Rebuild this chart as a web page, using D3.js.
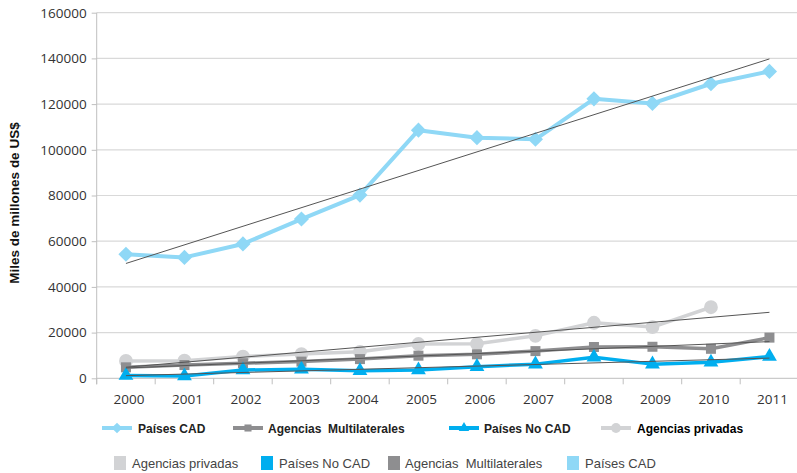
<!DOCTYPE html>
<html><head><meta charset="utf-8">
<script src="https://cdn.jsdelivr.net/npm/d3@7"></script>
<style>
body{margin:0;background:#fff;}
svg text{white-space:pre;}
</style></head>
<body><svg id="c" width="797" height="473"></svg>
<script>
const years = ["2000","2001","2002","2003","2004","2005","2006","2007","2008","2009","2010","2011"];
const paisesCAD = [54300, 52900, 58800, 69700, 80200, 108600, 105300, 104600, 122300, 120300, 128900, 134300];
const agenciasMultilaterales = [4800, 5800, 6600, 7300, 8400, 9900, 10500, 11900, 13700, 13800, 12900, 17800];
const paisesNoCAD = [1200, 1000, 3600, 4000, 3300, 3600, 5100, 6200, 9200, 6200, 7000, 9500];
const agenciasPrivadas = [7600, 7700, 9500, 10600, 11600, 15000, 15100, 18600, 24300, 22400, 31100, null];
const yTicks = [0, 20000, 40000, 60000, 80000, 100000, 120000, 140000, 160000];
const yTitle = "Miles de millones de US$";

const series = [
  {name:"Agencias privadas", values:agenciasPrivadas, color:"#d2d3d5", marker:"circle"},
  {name:"Agencias  Multilaterales", values:agenciasMultilaterales, color:"#8e8e90", marker:"square"},
  {name:"Países No CAD", values:paisesNoCAD, color:"#00aeef", marker:"triangle"},
  {name:"Países CAD", values:paisesCAD, color:"#8fd8f6", marker:"diamond"}
];

const svg = d3.select("#c");
const pLeft = 96.7, pRight = 798.7, pTop = 12.7, pBottom = 378.3;
const x = d3.scaleBand().domain(years).range([pLeft, pRight]).padding(0);
const cx = d => x(d) + x.bandwidth()/2;
const y = d3.scaleLinear().domain([0,160000]).range([pBottom, pTop]);

// gridlines
svg.append("g").selectAll("line").data(yTicks.filter(t=>t>0)).join("line")
  .attr("x1", pLeft).attr("x2", 797).attr("y1", d=>y(d)).attr("y2", d=>y(d))
  .attr("stroke", "#d9d9d9").attr("stroke-width", 1.2);

// y axis
const yAxis = svg.append("g").attr("transform", `translate(${pLeft},0)`)
  .call(d3.axisLeft(y).tickValues(yTicks).tickSize(5).tickPadding(5).tickFormat(d3.format("d")));
yAxis.select(".domain").attr("stroke", "#bfbfbf").attr("d", `M0,${pTop}V${pBottom+6}`);
yAxis.selectAll(".tick line").attr("stroke", "#bfbfbf");
yAxis.selectAll("text").attr("font-family", "'Open Sans', sans-serif").attr("font-size", 13.5).attr("fill", "#333");

// x axis
const xAxis = svg.append("g").attr("transform", `translate(0,${pBottom})`)
  .call(d3.axisBottom(x).tickSize(0).tickPadding(16));
xAxis.select(".domain").attr("stroke", "#bfbfbf").attr("d", `M${pLeft},0H797`);
xAxis.selectAll("text").attr("font-family", "'Open Sans', sans-serif").attr("font-size", 13.5).attr("fill", "#333").attr("dx", 3);
svg.append("g").selectAll("line").data(years.concat(["end"])).join("line")
  .attr("x1", (d,i)=>pLeft + i*x.bandwidth()).attr("x2", (d,i)=>pLeft + i*x.bandwidth())
  .attr("y1", pBottom).attr("y2", pBottom+6).attr("stroke", "#bfbfbf");

// y title
svg.append("text").attr("transform", "translate(19,203) rotate(-90)")
  .attr("text-anchor", "middle").attr("font-family", "'Liberation Sans', sans-serif")
  .attr("font-weight", "bold").attr("font-size", 13.5).attr("fill", "#111").text(yTitle);

function markerPath(type, s) {
  const sym = {circle:d3.symbolCircle, square:d3.symbolSquare, triangle:d3.symbolTriangle, diamond:d3.symbolSquare}[type];
  return d3.symbol().type(sym).size(s)();
}
const markerSize = {circle:150, square:100, triangle:95, diamond:115};
const rot = m => m === "diamond" ? " rotate(45)" : "";

// series
series.forEach(s => {
  const pts = years.map((yr,i)=>({yr, v:s.values[i]})).filter(p=>p.v!=null);
  const line = d3.line().x(p=>cx(p.yr)).y(p=>y(p.v));
  svg.append("path").datum(pts).attr("d", line).attr("fill","none")
    .attr("stroke", s.color).attr("stroke-width", s.marker==="diamond"?4:3.5).attr("stroke-linejoin","round");
  svg.append("g").selectAll("path").data(pts).join("path")
    .attr("transform", p=>`translate(${cx(p.yr)},${y(p.v)})${rot(s.marker)}`)
    .attr("d", markerPath(s.marker, markerSize[s.marker])).attr("fill", s.color);
});

// linear trend lines (least squares over available points), from 2000 to 2011
series.forEach(s => {
  const pts = s.values.map((v,i)=>[i,v]).filter(p=>p[1]!=null);
  const mx = d3.mean(pts, p=>p[0]), my = d3.mean(pts, p=>p[1]);
  const slope = d3.sum(pts, p=>(p[0]-mx)*(p[1]-my)) / d3.sum(pts, p=>(p[0]-mx)**2);
  const b = my - slope*mx;
  const i0 = 0, i1 = years.length-1;
  svg.append("line").attr("x1", cx(years[i0])).attr("y1", y(b+slope*i0))
    .attr("x2", cx(years[i1])).attr("y2", y(b+slope*i1))
    .attr("stroke", "#555").attr("stroke-width", 1);
});

// legend row 1 (line + marker)
const leg1 = [
  {s:series[3], x:102, tx:138, color:"#222"},
  {s:series[1], x:233, tx:268, color:"#222"},
  {s:series[2], x:449, tx:484, color:"#222"},
  {s:series[0], x:601, tx:637, color:"#000"}
];
leg1.forEach(l => {
  const g = svg.append("g");
  g.append("line").attr("x1", l.x).attr("x2", l.x+30).attr("y1", 428).attr("y2", 428)
    .attr("stroke", l.s.color).attr("stroke-width", 4);
  g.append("path").attr("transform", `translate(${l.x+15},428)${rot(l.s.marker)}`)
    .attr("d", markerPath(l.s.marker, markerSize[l.s.marker]*0.5)).attr("fill", l.s.color);
  g.append("text").attr("x", l.tx).attr("y", 433).attr("font-family", "'Liberation Sans', sans-serif")
    .attr("font-weight", "bold").attr("font-size", 12).attr("fill", l.color).text(l.s.name);
});

// legend row 2 (squares)
const leg2 = [
  {s:series[0], x:114, tx:132},
  {s:series[2], x:261, tx:279},
  {s:series[1], x:388, tx:405},
  {s:series[3], x:567, tx:585}
];
leg2.forEach(l => {
  svg.append("rect").attr("x", l.x).attr("y", 456).attr("width", 12).attr("height", 14).attr("fill", l.s.color);
  svg.append("text").attr("x", l.tx).attr("y", 468).attr("font-family", "'Liberation Sans', sans-serif")
    .attr("font-size", 13).attr("fill", "#444").text(l.s.name);
});
</script></body></html>
